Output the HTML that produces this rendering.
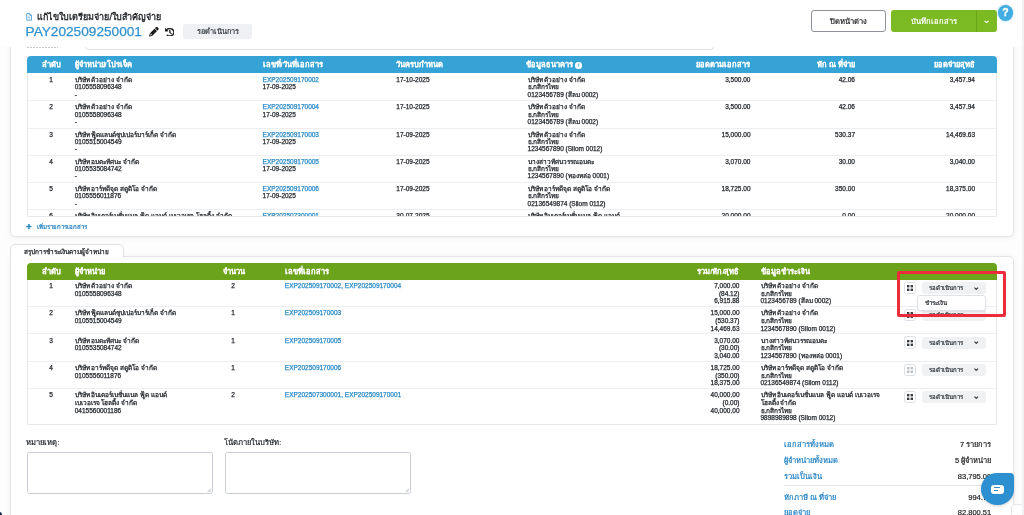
<!DOCTYPE html>
<html><head><meta charset="utf-8">
<style>
*{box-sizing:border-box;margin:0;padding:0}
html,body{width:1024px;height:515px;overflow:hidden}
#wrap{position:absolute;left:0;top:0;width:1024px;height:515px;overflow:hidden;will-change:transform}
body{position:relative;background:#fdfdfd;font-family:"Liberation Sans",sans-serif;color:#212529}
.a{position:absolute}
.hdr{position:absolute;left:0;top:0;width:1024px;height:47px;background:#fff;z-index:5}
.card{position:absolute;background:#fff;border:1px solid #e2e5e9;border-radius:5px;box-shadow:0 1px 6px rgba(0,0,0,.06)}
.tw{position:absolute;left:27px;width:970px;overflow:hidden;background:#fff}
.tb{position:absolute;left:27px;width:970px;border:1px solid #e6e9ec;border-top:none;pointer-events:none}
.th{position:relative;height:17px;border-radius:4px 4px 0 0;color:#fff;font-weight:bold;font-size:7.5px;line-height:8px;-webkit-text-stroke:.05px #fff}
.th div{position:absolute;top:5px;white-space:nowrap}
.r1,.r2{position:relative;border-bottom:1px solid #eceef1;font-size:6.5px;line-height:7.65px;color:#1f2328;-webkit-text-stroke:.25px currentColor}
.r1{height:27.25px}
.r2{height:27.3px}
.r2l{height:37px;border-bottom:none}
.c{position:absolute;white-space:nowrap}
.r1 .c{top:2.2px;line-height:7.2px}
.r2 .c{top:2.2px}
.rt{text-align:right}
.lk{color:#2a8bc9}
.gbtn{position:absolute;left:876.6px;top:1.9px;width:12.2px;height:12.4px;border:1px solid #dde1e6;border-radius:2.5px;background:#fff}
.gbtn svg{fill:#3a3f45}
.gbtn.dis svg{fill:#b9bfc6}
.dd{position:absolute;left:894.6px;top:2.1px;width:64px;height:12px;background:#eff1f3;border-radius:3px;font-size:6px;line-height:12px;padding-left:7px;color:#2f3439;-webkit-text-stroke:.2px #2f3439}
.chev{position:absolute;right:7px;top:4.6px}
</style></head><body><div id="wrap">

<!-- card 1 -->
<div class="card" style="left:10px;top:-20px;width:1003.5px;height:257px"></div>
<div class="a" style="left:85px;top:30px;width:629px;height:19.8px;border:1px solid #dde1e6;border-top:none;border-radius:0 0 4px 4px"></div>
<div class="a" style="left:27px;top:47px;width:31px;height:1.3px;background:repeating-linear-gradient(90deg,#6b6f75 0 1.6px,transparent 1.6px 3px);opacity:.4"></div>

<div class="tw" style="top:56px;height:161px">
  <div class="th" style="background:#36a3d6">
    <div style="left:4px;width:40px;text-align:center">ลำดับ</div>
    <div style="left:47.6px">ผู้จำหน่าย/โปรเจ็ค</div>
    <div style="left:235.6px">เลขที่/วันที่เอกสาร</div>
    <div style="left:369.3px">วันครบกำหนด</div>
    <div style="left:499.4px">ข้อมูลธนาคาร <span style="display:inline-block;width:6.5px;height:6.5px;border-radius:50%;background:#fff;color:#36a3d6;font-size:5.5px;line-height:6.5px;text-align:center;vertical-align:0;-webkit-text-stroke:0">i</span></div>
    <div style="right:246.8px">ยอดตามเอกสาร</div>
    <div style="right:142.3px">หัก ณ ที่จ่าย</div>
    <div style="right:22px">ยอดจ่ายสุทธิ</div>
  </div>
<div class="r1" style="margin-top:1px">
<div class="c" style="left:4px;width:40px;text-align:center">1</div>
<div class="c" style="left:47.7px">บริษัท ตัวอย่าง จำกัด<br>0105558096348<br>-</div>
<div class="c" style="left:235.6px"><span class="lk">EXP202509170002</span><br>17-09-2025</div>
<div class="c" style="left:369.3px">17-10-2025</div>
<div class="c" style="left:500.6px">บริษัท ตัวอย่าง จำกัด<br>ธ.กสิกรไทย<br>0123456789 (สีลม 0002)</div>
<div class="c rt" style="right:246.5px">3,500.00</div>
<div class="c rt" style="right:142px">42.06</div>
<div class="c rt" style="right:22px">3,457.94</div>
</div>
<div class="r1">
<div class="c" style="left:4px;width:40px;text-align:center">2</div>
<div class="c" style="left:47.7px">บริษัท ตัวอย่าง จำกัด<br>0105558096348<br>-</div>
<div class="c" style="left:235.6px"><span class="lk">EXP202509170004</span><br>17-09-2025</div>
<div class="c" style="left:369.3px">17-10-2025</div>
<div class="c" style="left:500.6px">บริษัท ตัวอย่าง จำกัด<br>ธ.กสิกรไทย<br>0123456789 (สีลม 0002)</div>
<div class="c rt" style="right:246.5px">3,500.00</div>
<div class="c rt" style="right:142px">42.06</div>
<div class="c rt" style="right:22px">3,457.94</div>
</div>
<div class="r1">
<div class="c" style="left:4px;width:40px;text-align:center">3</div>
<div class="c" style="left:47.7px">บริษัท ฟู้ดแลนด์ซุปเปอร์มาร์เก็ต จำกัด<br>0105515004549<br>-</div>
<div class="c" style="left:235.6px"><span class="lk">EXP202509170003</span><br>17-09-2025</div>
<div class="c" style="left:369.3px">17-09-2025</div>
<div class="c" style="left:500.6px">บริษัท ตัวอย่าง จำกัด<br>ธ.กสิกรไทย<br>1234567890 (Silom 0012)</div>
<div class="c rt" style="right:246.5px">15,000.00</div>
<div class="c rt" style="right:142px">530.37</div>
<div class="c rt" style="right:22px">14,469.63</div>
</div>
<div class="r1">
<div class="c" style="left:4px;width:40px;text-align:center">4</div>
<div class="c" style="left:47.7px">บริษัท อมตะทัศนะ จำกัด<br>0105535084742<br>-</div>
<div class="c" style="left:235.6px"><span class="lk">EXP202509170005</span><br>17-09-2025</div>
<div class="c" style="left:369.3px">17-09-2025</div>
<div class="c" style="left:500.6px">นางสาวทัศนวรรณอมตะ<br>ธ.กสิกรไทย<br>1234567890 (ทองหล่อ 0001)</div>
<div class="c rt" style="right:246.5px">3,070.00</div>
<div class="c rt" style="right:142px">30.00</div>
<div class="c rt" style="right:22px">3,040.00</div>
</div>
<div class="r1">
<div class="c" style="left:4px;width:40px;text-align:center">5</div>
<div class="c" style="left:47.7px">บริษัท อาร์ทดีจุด สตูดิโอ จำกัด<br>0105556011876<br>-</div>
<div class="c" style="left:235.6px"><span class="lk">EXP202509170006</span><br>17-09-2025</div>
<div class="c" style="left:369.3px">17-09-2025</div>
<div class="c" style="left:500.6px">บริษัท อาร์ทดีจุด สตูดิโอ จำกัด<br>ธ.กสิกรไทย<br>02136549874 (Silom 0112)</div>
<div class="c rt" style="right:246.5px">18,725.00</div>
<div class="c rt" style="right:142px">350.00</div>
<div class="c rt" style="right:22px">18,375.00</div>
</div>
<div class="r1">
<div class="c" style="left:4px;width:40px;text-align:center">6</div>
<div class="c" style="left:47.7px">บริษัท อินเตอร์เนชั่นแนล ฟู้ด แอนด์ เบเวอเรจ โฮลดิ้ง จำกัด<br>0415560001186<br>-</div>
<div class="c" style="left:235.6px"><span class="lk">EXP202507300001</span><br>30-07-2025</div>
<div class="c" style="left:369.3px">30-07-2025</div>
<div class="c" style="left:500.6px">บริษัท อินเตอร์เนชั่นแนล ฟู้ด แอนด์<br>ธ.กสิกรไทย<br>9898989898 (Silom 0012)</div>
<div class="c rt" style="right:246.5px">20,000.00</div>
<div class="c rt" style="right:142px">0.00</div>
<div class="c rt" style="right:22px">20,000.00</div>
</div>
</div>
<div class="tb" style="top:73px;height:144px"></div>

<div class="a" style="left:26.3px;top:222.2px;font-size:9px;line-height:10px;font-weight:bold;color:#2a8bc9;-webkit-text-stroke:.5px #2a8bc9">+</div>
<div class="a" style="left:36.6px;top:223.3px;font-size:6.1px;line-height:8px;color:#2282c4;-webkit-text-stroke:.2px #2282c4">เพิ่มรายการเอกสาร</div>

<!-- card 2 -->
<div class="card" style="left:10px;top:256px;width:1003.5px;height:300px;border-top-left-radius:0"></div>
<div class="a" style="left:10px;top:244px;width:113.5px;height:13.5px;background:#fff;border:1px solid #dde1e6;border-bottom:none;border-radius:5px 5px 0 0"></div>
<div class="a" style="left:23.8px;top:247px;font-size:6.45px;line-height:10px;color:#1f2328;-webkit-text-stroke:.25px #1f2328">สรุปการชำระเงินตามผู้จำหน่าย</div>

<div class="tw" style="top:262.5px;height:162px">
  <div class="th" style="background:#6ba31b;height:17.4px">
    <div style="left:4px;width:40px;text-align:center">ลำดับ</div>
    <div style="left:47.8px">ผู้จำหน่าย</div>
    <div style="left:186.7px;width:40px;text-align:center">จำนวน</div>
    <div style="left:258px">เลขที่เอกสาร</div>
    <div style="right:257.5px">รวม/หัก/สุทธิ</div>
    <div style="left:733.5px">ข้อมูลชำระเงิน</div>
  </div>
<div class="r2">
<div class="c" style="left:4px;width:40px;text-align:center">1</div>
<div class="c" style="left:47.7px">บริษัท ตัวอย่าง จำกัด<br>0105558096348</div>
<div class="c" style="left:186px;width:40px;text-align:center">2</div>
<div class="c lk" style="left:257.8px">EXP202509170002, EXP202509170004</div>
<div class="c rt" style="right:257.5px">7,000.00<br>(84.12)<br>6,915.88</div>
<div class="c" style="left:733.5px">บริษัท ตัวอย่าง จำกัด<br>ธ.กสิกรไทย<br>0123456789 (สีลม 0002)</div>
<div class="gbtn"><svg width="6" height="6" viewBox="0 0 6 6" style="position:absolute;left:2.2px;top:2.2px"><rect x="0" y="0" width="2.4" height="2.4"/><rect x="3.6" y="0" width="2.4" height="2.4"/><rect x="0" y="3.6" width="2.4" height="2.4"/><rect x="3.6" y="3.6" width="2.4" height="2.4"/></svg></div>
<div class="dd">รอดำเนินการ<svg class="chev" viewBox="0 0 10 6" width="4.5" height="3"><path d="M1 1l4 4 4-4" fill="none" stroke="#333" stroke-width="2.4"/></svg></div>
</div>
<div class="r2">
<div class="c" style="left:4px;width:40px;text-align:center">2</div>
<div class="c" style="left:47.7px">บริษัท ฟู้ดแลนด์ซุปเปอร์มาร์เก็ต จำกัด<br>0105515004549</div>
<div class="c" style="left:186px;width:40px;text-align:center">1</div>
<div class="c lk" style="left:257.8px">EXP202509170003</div>
<div class="c rt" style="right:257.5px">15,000.00<br>(530.37)<br>14,469.63</div>
<div class="c" style="left:733.5px">บริษัท ตัวอย่าง จำกัด<br>ธ.กสิกรไทย<br>1234567890 (Silom 0012)</div>
<div class="gbtn"><svg width="6" height="6" viewBox="0 0 6 6" style="position:absolute;left:2.2px;top:2.2px"><rect x="0" y="0" width="2.4" height="2.4"/><rect x="3.6" y="0" width="2.4" height="2.4"/><rect x="0" y="3.6" width="2.4" height="2.4"/><rect x="3.6" y="3.6" width="2.4" height="2.4"/></svg></div>
<div class="dd">รอดำเนินการ<svg class="chev" viewBox="0 0 10 6" width="4.5" height="3"><path d="M1 1l4 4 4-4" fill="none" stroke="#333" stroke-width="2.4"/></svg></div>
</div>
<div class="r2">
<div class="c" style="left:4px;width:40px;text-align:center">3</div>
<div class="c" style="left:47.7px">บริษัท อมตะทัศนะ จำกัด<br>0105535084742</div>
<div class="c" style="left:186px;width:40px;text-align:center">1</div>
<div class="c lk" style="left:257.8px">EXP202509170005</div>
<div class="c rt" style="right:257.5px">3,070.00<br>(30.00)<br>3,040.00</div>
<div class="c" style="left:733.5px">นางสาวทัศนวรรณอมตะ<br>ธ.กสิกรไทย<br>1234567890 (ทองหล่อ 0001)</div>
<div class="gbtn"><svg width="6" height="6" viewBox="0 0 6 6" style="position:absolute;left:2.2px;top:2.2px"><rect x="0" y="0" width="2.4" height="2.4"/><rect x="3.6" y="0" width="2.4" height="2.4"/><rect x="0" y="3.6" width="2.4" height="2.4"/><rect x="3.6" y="3.6" width="2.4" height="2.4"/></svg></div>
<div class="dd">รอดำเนินการ<svg class="chev" viewBox="0 0 10 6" width="4.5" height="3"><path d="M1 1l4 4 4-4" fill="none" stroke="#333" stroke-width="2.4"/></svg></div>
</div>
<div class="r2">
<div class="c" style="left:4px;width:40px;text-align:center">4</div>
<div class="c" style="left:47.7px">บริษัท อาร์ทดีจุด สตูดิโอ จำกัด<br>0105556011876</div>
<div class="c" style="left:186px;width:40px;text-align:center">1</div>
<div class="c lk" style="left:257.8px">EXP202509170006</div>
<div class="c rt" style="right:257.5px">18,725.00<br>(350.00)<br>18,375.00</div>
<div class="c" style="left:733.5px">บริษัท อาร์ทดีจุด สตูดิโอ จำกัด<br>ธ.กสิกรไทย<br>02136549874 (Silom 0112)</div>
<div class="gbtn dis"><svg width="6" height="6" viewBox="0 0 6 6" style="position:absolute;left:2.2px;top:2.2px"><rect x="0" y="0" width="2.4" height="2.4"/><rect x="3.6" y="0" width="2.4" height="2.4"/><rect x="0" y="3.6" width="2.4" height="2.4"/><rect x="3.6" y="3.6" width="2.4" height="2.4"/></svg></div>
<div class="dd">รอดำเนินการ<svg class="chev" viewBox="0 0 10 6" width="4.5" height="3"><path d="M1 1l4 4 4-4" fill="none" stroke="#333" stroke-width="2.4"/></svg></div>
</div>
<div class="r2 r2l">
<div class="c" style="left:4px;width:40px;text-align:center">5</div>
<div class="c" style="left:47.7px">บริษัท อินเตอร์เนชั่นแนล ฟู้ด แอนด์<br>เบเวอเรจ โฮลดิ้ง จำกัด<br>0415560001186</div>
<div class="c" style="left:186px;width:40px;text-align:center">2</div>
<div class="c lk" style="left:257.8px">EXP202507300001, EXP202509170001</div>
<div class="c rt" style="right:257.5px">40,000.00<br>(0.00)<br>40,000.00</div>
<div class="c" style="left:733.5px">บริษัท อินเตอร์เนชั่นแนล ฟู้ด แอนด์ เบเวอเรจ<br>โฮลดิ้ง จำกัด<br>ธ.กสิกรไทย<br>9898989898 (Silom 0012)</div>
<div class="gbtn"><svg width="6" height="6" viewBox="0 0 6 6" style="position:absolute;left:2.2px;top:2.2px"><rect x="0" y="0" width="2.4" height="2.4"/><rect x="3.6" y="0" width="2.4" height="2.4"/><rect x="0" y="3.6" width="2.4" height="2.4"/><rect x="3.6" y="3.6" width="2.4" height="2.4"/></svg></div>
<div class="dd">รอดำเนินการ<svg class="chev" viewBox="0 0 10 6" width="4.5" height="3"><path d="M1 1l4 4 4-4" fill="none" stroke="#333" stroke-width="2.4"/></svg></div>
</div>
</div>
<div class="tb" style="top:279.9px;height:145.2px"></div>

<!-- remarks -->
<div class="a" style="left:26.4px;top:437.5px;font-size:7.6px;line-height:10px;color:#1f2328;-webkit-text-stroke:.2px #1f2328">หมายเหตุ:</div>
<div class="a" style="left:27px;top:452.4px;width:186.4px;height:41.4px;border:1px solid #c9ced4;border-radius:2.5px;background:#fff"><svg class="a" style="right:1px;bottom:1px" width="4" height="4" viewBox="0 0 4 4"><path d="M4 0.6L0.6 4M4 2.4L2.4 4" stroke="#8a8f95" stroke-width=".6"/></svg></div>
<div class="a" style="left:224.2px;top:437.5px;font-size:7.6px;line-height:10px;color:#1f2328;-webkit-text-stroke:.2px #1f2328">โน้ตภายในบริษัท:</div>
<div class="a" style="left:224.6px;top:452.2px;width:186.6px;height:41.8px;border:1px solid #c9ced4;border-radius:2.5px;background:#fff"><svg class="a" style="right:1px;bottom:1px" width="4" height="4" viewBox="0 0 4 4"><path d="M4 0.6L0.6 4M4 2.4L2.4 4" stroke="#8a8f95" stroke-width=".6"/></svg></div>

<!-- summary -->
<div class="a" style="left:783.7px;top:438.7px;font-size:7.55px;line-height:11px;color:#2282c4;-webkit-text-stroke:.2px #2282c4">เอกสารทั้งหมด</div>
<div class="a" style="right:32.8px;top:438.7px;font-size:7.5px;line-height:11px;color:#222;text-align:right;-webkit-text-stroke:.2px #222">7 รายการ</div>
<div class="a" style="left:783.7px;top:454.5px;font-size:7.55px;line-height:11px;color:#2282c4;-webkit-text-stroke:.2px #2282c4">ผู้จำหน่ายทั้งหมด</div>
<div class="a" style="right:32.8px;top:454.5px;font-size:7.5px;line-height:11px;color:#222;text-align:right;-webkit-text-stroke:.2px #222">5 ผู้จำหน่าย</div>
<div class="a" style="left:783.7px;top:470.5px;font-size:7.55px;line-height:11px;color:#2282c4;-webkit-text-stroke:.2px #2282c4">รวมเป็นเงิน</div>
<div class="a" style="right:32.8px;top:470.5px;font-size:7.5px;line-height:11px;color:#222;text-align:right;-webkit-text-stroke:.2px #222">83,795.00</div>
<div class="a" style="left:783.7px;top:485px;width:208px;height:1px;background:#e3e6ea"></div>
<div class="a" style="left:783.7px;top:492.3px;font-size:7.55px;line-height:11px;color:#2282c4;-webkit-text-stroke:.2px #2282c4">หักภาษี ณ ที่จ่าย</div>
<div class="a" style="right:32.8px;top:492.3px;font-size:7.5px;line-height:11px;color:#222;text-align:right;-webkit-text-stroke:.2px #222">994.74</div>
<div class="a" style="left:783.7px;top:507.3px;font-size:7.55px;line-height:11px;color:#2282c4;-webkit-text-stroke:.2px #2282c4">ยอดจ่าย</div>
<div class="a" style="right:32.8px;top:507.3px;font-size:7.5px;line-height:11px;color:#222;text-align:right;-webkit-text-stroke:.2px #222">82,800.51</div>

<!-- red highlight + menu -->
<div class="a" style="left:916.5px;top:295.4px;width:69.1px;height:15.2px;background:#fff;border:1px solid #dfe3e8;border-radius:3px;box-shadow:0 1px 2px rgba(0,0,0,.08);font-size:6.1px;line-height:13px;padding-left:7.5px;color:#1f2328;-webkit-text-stroke:.2px #1f2328;z-index:3">ชำระเงิน</div>
<div class="a" style="left:896.6px;top:270.6px;width:109.2px;height:46.1px;border:3.4px solid #ec2b3b;border-radius:2px;z-index:4"></div>

<div class="a" style="left:1021.8px;top:0;width:2.2px;height:515px;background:#f1f2f4;z-index:7"></div>
<div class="a" style="left:-2.5px;top:512px;width:4px;height:5px;border-radius:50%;background:#1d2b4f"></div>
<div class="a" style="left:1010.5px;top:504px;width:30px;height:30px;border:1px solid #e6e8eb;border-radius:4px;background:#fff;z-index:5"></div>
<!-- chat -->
<div class="a" style="left:981.4px;top:472.7px;width:32.3px;height:32.1px;background:#2c8fcf;border-radius:50% 4px 50% 50%;box-shadow:0 1px 3px rgba(0,0,0,.2);z-index:6">
  <div class="a" style="left:10.1px;top:12.1px;width:12.3px;height:9.1px;background:#fff;border-radius:3px"></div>
  <div class="a" style="left:12.6px;top:14.6px;width:6.5px;height:1.2px;background:#2c8fcf"></div>
  <div class="a" style="left:12.6px;top:17.2px;width:4.5px;height:1.2px;background:#2c8fcf"></div>
</div>

<!-- header -->
<div class="hdr">
  <svg class="a" style="left:26px;top:12.9px" width="6.2" height="7.8" viewBox="0 0 8 10"><path d="M1 .8h4l2.2 2.2v6.2H1z" fill="none" stroke="#3a9ad6" stroke-width="1.1"/><path d="M5 .8v2.3h2.2" fill="none" stroke="#3a9ad6" stroke-width="1"/><rect x="2.8" y="4.6" width="2.4" height="2.4" fill="#3a9ad6" opacity=".6"/></svg>
  <div class="a" style="left:37.4px;top:11.8px;font-size:9px;line-height:10px;color:#1a1d20;-webkit-text-stroke:.3px #1a1d20">แก้ไขใบเตรียมจ่าย/ใบสำคัญจ่าย</div>
  <div class="a" style="left:25.6px;top:25.2px;font-size:13.65px;line-height:14px;color:#2f91d0;-webkit-text-stroke:.25px #2f91d0">PAY202509250001</div>
  <svg class="a" style="left:149.4px;top:27.0px" width="9.8" height="9.6" viewBox="0 0 512 512"><path fill="#1e1e1e" d="M410.3 231l11.3-11.3-33.9-33.9-62.1-62.1L291.7 89.8l-11.3 11.3-22.6 22.6L58.6 322.9c-10.4 10.4-18 23.3-22.2 37.4L1 480.7c-2.5 8.4-.2 17.5 6.1 23.7s15.3 8.5 23.7 6.1l120.3-35.4c14.1-4.2 27-11.8 37.4-22.2L387.7 253.7 410.3 231zM160 399.4l-9.1 22.7c-4 3.1-8.5 5.4-13.3 6.9L59.4 452l23-78.1c1.4-4.9 3.8-9.4 6.900-13.3l22.7-9.1v32c0 8.8 7.2 16 16 16h32zM362.7 18.7L348.3 33.2 325.7 55.8 314.3 67.1l33.9 33.9 62.1 62.1 33.9 33.9 11.3-11.3 22.6-22.6 14.5-14.5c25-25 25-65.5 0-90.5L453.3 18.7c-25-25-65.5-25-90.5 0z"/></svg>
  <svg class="a" style="left:164.7px;top:27.6px" width="9.6" height="8.6" viewBox="0 0 512 512" preserveAspectRatio="none"><path fill="#1e1e1e" stroke="#1e1e1e" stroke-width="28" d="M75 75L41 41C25.9 25.9 0 36.6 0 57.9V168c0 13.3 10.7 24 24 24H134.1c21.4 0 32.1-25.9 17-41l-30.8-30.8C155 85.5 203 64 256 64c106 0 192 86 192 192s-86 192-192 192c-40.8 0-78.6-12.7-109.7-34.4c-14.5-10.1-34.4-6.6-44.6 7.9s-6.6 34.4 7.9 44.6C151.2 495 201.7 512 256 512c141.4 0 256-114.6 256-256S397.4 0 256 0C185.3 0 121.3 28.7 75 75zm181 53c-13.3 0-24 10.7-24 24V256c0 6.4 2.5 12.5 7 17l72 72c9.4 9.4 24.6 9.4 33.9 0s9.4-24.6 0-33.9l-65-65V152c0-13.3-10.7-24-24-24z"/></svg>
  <div class="a" style="left:183.2px;top:23.9px;width:69px;height:15.1px;background:#eef0f3;border-radius:3px;font-size:7.4px;line-height:15px;text-align:center;color:#33383d;-webkit-text-stroke:.2px #33383d">รอดำเนินการ</div>

  <div class="a" style="left:811px;top:10px;width:74.5px;height:21.5px;border:1px solid #8c9197;border-radius:3px;font-size:7.6px;line-height:22.4px;text-align:center;color:#222;-webkit-text-stroke:.2px #222">ปิดหน้าต่าง</div>
  <div class="a" style="left:891px;top:10px;width:106px;height:21.5px;background:#7cba23;border-radius:3px;color:#fff">
    <div class="a" style="left:0;top:0;width:85px;height:21.5px;font-size:7.6px;line-height:24.4px;text-align:center;-webkit-text-stroke:.2px #fff">บันทึกเอกสาร</div>
    <div class="a" style="left:85px;top:0;width:1px;height:21.5px;background:#6aa51a"></div>
    <svg class="a" style="left:93px;top:9.6px" width="5.2" height="3.5" viewBox="0 0 10 6"><path d="M1.2 1.2l3.8 3.6 3.8-3.6" fill="none" stroke="#fff" stroke-width="2.3"/></svg>
  </div>
  <div class="a" style="left:997.7px;top:5px;width:15.6px;height:15.6px;border-radius:50%;background:#42ade3;color:#fff;font-weight:bold;font-size:10.5px;line-height:15.6px;text-align:center;-webkit-text-stroke:.3px #fff;box-shadow:0 0 3px rgba(66,173,227,.45)">?</div>
</div>
</div></body></html>
